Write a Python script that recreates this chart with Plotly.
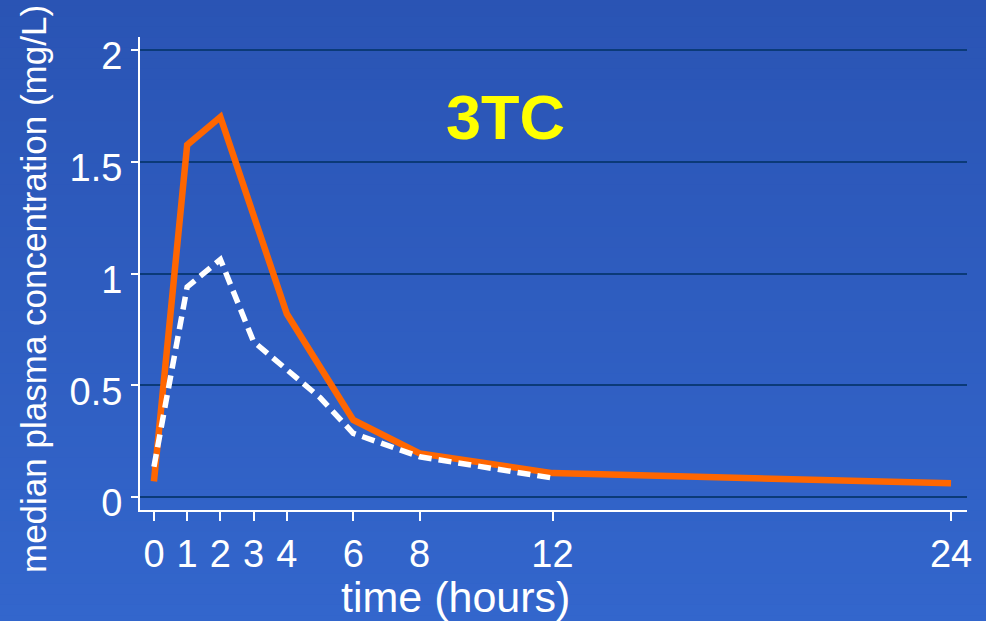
import plotly.graph_objects as go

# ---- data ----
hours_high = [0, 1, 2, 4, 6, 8, 12, 24]
conc_high = [0.07, 1.575, 1.70, 0.82, 0.345, 0.195, 0.107, 0.062]

hours_low = [0, 1, 2, 3, 4, 5, 6, 8, 12]
conc_low = [0.135, 0.94, 1.063, 0.695, 0.57, 0.445, 0.285, 0.18, 0.085]

x_ticks = [0, 1, 2, 3, 4, 6, 8, 12, 24]
x_tick_labels = ["0", "1", "2", "3", "4", "6", "8", "12", "24"]
y_ticks = [0, 0.5, 1, 1.5, 2]
y_tick_labels = ["0", "0.5", "1", "1.5", "2"]

title_text = "3TC"
x_title = "time (hours)"
y_title = "median plasma concentration (mg/L)"

FONT = "Liberation Sans, Arial, Helvetica, sans-serif"
W, H = 986, 621
ML, MR, MT, MB = 140, 19, 37, 111
PW, PH = W - ML - MR, H - MT - MB

fig = go.Figure()
fig.add_trace(go.Scatter(x=hours_high, y=conc_high, mode="lines",
                         line=dict(color="#ff6600", width=6.5), showlegend=False,
                         hoverinfo="skip"))
fig.add_trace(go.Scatter(x=hours_low, y=conc_low, mode="lines",
                         line=dict(color="#ffffff", width=5.5, dash="13px,7px"),
                         showlegend=False, hoverinfo="skip"))

# background gradient (dark top -> lighter bottom)
top = (42, 84, 180)
bot = (51, 102, 204)
n = 60
shapes = []
py_top = 1 + MT / PH + 0.01
py_bot = -MB / PH - 0.01
for i in range(n):
    t = i / (n - 1)
    c = tuple(round(top[k] + (bot[k] - top[k]) * t) for k in range(3))
    y1 = py_top - (py_top - py_bot) * i / n
    y0 = py_top - (py_top - py_bot) * (i + 1) / n - 0.002
    shapes.append(dict(type="rect", xref="paper", yref="paper",
                       x0=-ML / PW - 0.01, x1=1 + MR / PW + 0.01, y0=y0, y1=y1,
                       fillcolor="rgb(%d,%d,%d)" % c, line=dict(width=0),
                       layer="below"))

fig.update_layout(
    width=W, height=H,
    margin=dict(l=ML, r=MR, t=MT, b=MB),
    paper_bgcolor="rgb(46,92,190)",
    plot_bgcolor="rgba(0,0,0,0)",
    shapes=shapes,
    font=dict(family=FONT, color="white"),
    xaxis=dict(range=[-0.42, 24.48], tickmode="array", tickvals=x_ticks,
               ticktext=x_tick_labels, showgrid=False, zeroline=False,
               showline=True, linecolor="white", linewidth=2,
               ticks="outside", ticklen=9, tickwidth=2, tickcolor="white",
               tickfont=dict(size=38, family=FONT, color="white"),
               fixedrange=True),
    yaxis=dict(range=[-0.058, 2.058], tickmode="array", tickvals=y_ticks,
               ticktext=y_tick_labels, showgrid=True, gridcolor="#0b3a78",
               gridwidth=2, zeroline=False, showline=True, linecolor="white",
               linewidth=2, ticks="outside", ticklen=7, tickwidth=2,
               tickcolor="white", ticklabelstandoff=1, ticklabelshift=6,
               tickfont=dict(size=38, family=FONT, color="white"),
               fixedrange=True),
    annotations=[
        dict(text="<b>%s</b>" % title_text, x=10.57, y=1.70, xref="x", yref="y",
             showarrow=False, font=dict(size=63, color="#ffff00", family=FONT),
             xanchor="center", yanchor="middle"),
        dict(text=x_title, x=(455 - ML) / PW, y=(MT + PH - 597) / PH,
             xref="paper", yref="paper", showarrow=False,
             font=dict(size=43, color="white", family=FONT),
             xanchor="center", yanchor="middle"),
        dict(text=y_title, x=(33 - ML) / PW, y=(MT + PH - 289) / PH,
             xref="paper", yref="paper", showarrow=False, textangle=-90,
             font=dict(size=35, color="white", family=FONT),
             xanchor="center", yanchor="middle"),
    ],
)

fig.write_html("out.html", config={"displayModeBar": False},
               post_script="document.body.style.margin='0';document.body.style.overflow='hidden';")
